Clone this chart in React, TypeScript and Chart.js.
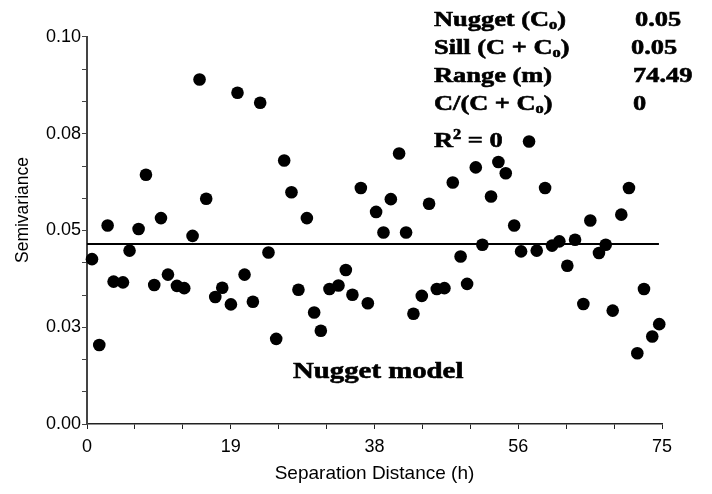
import React, { useEffect, useRef } from "react";
import { Chart, registerables } from "chart.js";

Chart.register(...registerables);

// Separation distance (h) of each lag class
const lagDistance = [
  0.65, 1.6, 2.69, 3.47, 4.69, 5.55, 6.73, 7.69, 8.77, 9.65,
  10.56, 11.73, 12.68, 13.77, 14.68, 15.55, 16.73, 17.64, 18.77, 19.63,
  20.55, 21.64, 22.59, 23.67, 24.68, 25.72, 26.67, 27.58, 28.68, 29.63,
  30.5, 31.63, 32.8, 33.76, 34.62, 35.72, 36.63, 37.71, 38.67, 39.63,
  40.71, 41.62, 42.58, 43.67, 44.62, 45.63, 46.62, 47.71, 48.73, 49.58,
  50.71, 51.57, 52.7, 53.66, 54.62, 55.72, 56.62, 57.66, 58.66, 59.75,
  60.66, 61.61, 62.65, 63.66, 64.74, 65.65, 66.78, 67.66, 68.57, 69.69,
  70.69, 71.78, 72.65, 73.73, 74.64,
];

// Experimental semivariance per lag class
const semivariance = [
  0.0426, 0.0204, 0.0513, 0.0368, 0.0366, 0.0448, 0.0504, 0.0644, 0.0359, 0.0532,
  0.0386, 0.0357, 0.0351, 0.0486, 0.089, 0.0582, 0.0328, 0.0352, 0.0309, 0.0856,
  0.0386, 0.0316, 0.083, 0.0443, 0.022, 0.0681, 0.0599, 0.0347, 0.0532, 0.0288,
  0.0241, 0.0349, 0.0358, 0.0398, 0.0334, 0.061, 0.0312, 0.0548, 0.0495, 0.0581,
  0.0699, 0.0495, 0.0285, 0.0331, 0.0569, 0.0349, 0.0351, 0.0624, 0.0433, 0.0362,
  0.0663, 0.0463, 0.0588, 0.0677, 0.0648, 0.0513, 0.0446, 0.073, 0.0448, 0.061,
  0.0461, 0.0472, 0.0409, 0.0476, 0.031, 0.0526, 0.0442, 0.0463, 0.0293, 0.0541,
  0.061, 0.0183, 0.0349, 0.0226, 0.0258,
];

// Fitted nugget model
const nuggetX = [0, 74.6];
const nuggetY = [0.0465, 0.0465];

// Axis ranges and tick labels
const xMin = 0;
const xMax = 75;
const yMin = 0;
const yMax = 0.1;
const minorPerMajor = 3;
const majorCount = 4;
const xTickLabels = ["0", "19", "38", "56", "75"];
const yTickLabels = ["0.00", "0.03", "0.05", "0.08", "0.10"];

// Model statistics
const statLabels = ["Nugget (C|o|)", "Sill (C + C|o|)", "Range (m)", "C/(C + C|o|)", "R^2^ = 0"];
const statValues = ["0.05", "0.05", "74.49", "0", ""];
const modelName = "Nugget model";

const SERIF = '"Liberation Serif", "Times New Roman", serif';
const SANS = '"Liberation Sans", Arial, sans-serif';

function drawRich(ctx: CanvasRenderingContext2D, text: string, x: number, y: number, size: number, sx: number) {
  // "|o|" marks subscript, "^2^" marks superscript
  const segs: { t: string; k: string }[] = [];
  const re = /\|([^|]+)\||\^([^^]+)\^/g;
  let last = 0;
  let m: RegExpExecArray | null;
  while ((m = re.exec(text))) {
    if (m.index > last) segs.push({ t: text.slice(last, m.index), k: "n" });
    if (m[1] !== undefined) segs.push({ t: m[1], k: "sub" });
    else segs.push({ t: m[2], k: "sup" });
    last = re.lastIndex;
  }
  if (last < text.length) segs.push({ t: text.slice(last), k: "n" });
  ctx.save();
  ctx.translate(x, y);
  ctx.scale(sx, 1);
  ctx.textBaseline = "alphabetic";
  ctx.textAlign = "left";
  ctx.fillStyle = "#000";
  ctx.strokeStyle = "#000";
  ctx.lineWidth = 0.6;
  let cx = 0;
  for (const s of segs) {
    const fs = s.k === "n" ? size : size * 0.62;
    const dy = s.k === "sub" ? size * 0.12 : s.k === "sup" ? -size * 0.38 : 0;
    ctx.font = `bold ${fs}px ${SERIF}`;
    ctx.fillText(s.t, cx, dy);
    ctx.strokeText(s.t, cx, dy);
    cx += ctx.measureText(s.t).width;
  }
  ctx.restore();
}

const annotationPlugin = {
  id: "annotations",
  beforeDraw(chart: any) {
    const ctx = chart.ctx;
    ctx.save();
    ctx.fillStyle = "#fff";
    ctx.fillRect(0, 0, chart.width, chart.height);
    ctx.restore();
  },
  afterDraw(chart: any) {
    const ctx: CanvasRenderingContext2D = chart.ctx;
    const baseY = [26, 54, 82, 110, 147];
    const valX = [635, 631, 633, 633, 633];
    statLabels.forEach((lbl, i) => {
      drawRich(ctx, lbl, 434, baseY[i], 22, 1.2);
      if (statValues[i]) drawRich(ctx, statValues[i], valX[i], baseY[i], 22, 1.2);
    });
    drawRich(ctx, modelName, 293, 378, 24, 1.2);

    // y axis title
    ctx.save();
    ctx.translate(23, 210);
    ctx.rotate(-Math.PI / 2);
    ctx.font = `17.5px ${SANS}`;
    ctx.fillStyle = "#000";
    ctx.textAlign = "center";
    ctx.textBaseline = "middle";
    ctx.fillText("Semivariance", 0, 0);
    ctx.restore();
  },
};

export default function App() {
  const ref = useRef<HTMLCanvasElement | null>(null);
  useEffect(() => {
    if (!ref.current) return;
    const nTicks = majorCount * minorPerMajor + 1;
    const chart = new Chart(ref.current, {
      type: "scatter",
      data: {
        datasets: [
          {
            label: "Semivariance",
            data: lagDistance.map((x, i) => ({ x, y: semivariance[i] })),
            backgroundColor: "#000",
            borderWidth: 0,
            pointRadius: 6.3,
            clip: false,
          } as any,
          {
            type: "line",
            label: "Nugget model",
            data: nuggetX.map((x, i) => ({ x, y: nuggetY[i] })),
            borderColor: "#000",
            borderWidth: 2,
            pointRadius: 0,
            fill: false,
          } as any,
        ],
      },
      options: {
        responsive: false,
        animation: false,
        devicePixelRatio: 1,
        layout: { padding: { left: 0, right: 50, top: 37, bottom: 0 } },
        plugins: { legend: { display: false }, tooltip: { enabled: false } },
        scales: {
          x: {
            type: "linear",
            min: xMin,
            max: xMax,
            afterBuildTicks: (axis: any) => {
              axis.ticks = Array.from({ length: nTicks }, (_, i) => ({ value: xMin + (i * (xMax - xMin)) / (nTicks - 1) }));
            },
            afterFit: (s: any) => {
              s.height = 70;
            },
            ticks: {
              autoSkip: false,
              maxRotation: 0,
              padding: 7,
              color: "#000",
              font: { family: SANS, size: 18 },
              callback: (_v: any, i: number) => (i % minorPerMajor === 0 ? xTickLabels[i / minorPerMajor] : ""),
            },
            grid: { drawOnChartArea: false, drawTicks: true, tickLength: 5, color: "#222", lineWidth: 1 },
            border: { display: true, color: "#222", width: 1.5 },
            title: {
              display: true,
              text: "Separation Distance (h)",
              color: "#000",
              font: { family: SANS, size: 19 },
              padding: { top: 0, bottom: 9 },
            },
          },
          y: {
            type: "linear",
            min: yMin,
            max: yMax,
            afterBuildTicks: (axis: any) => {
              axis.ticks = Array.from({ length: nTicks }, (_, i) => ({ value: yMin + (i * (yMax - yMin)) / (nTicks - 1) }));
            },
            afterFit: (s: any) => {
              s.width = 87;
            },
            ticks: {
              autoSkip: false,
              padding: 1,
              color: "#000",
              font: { family: SANS, size: 18 },
              callback: (_v: any, i: number) => (i % minorPerMajor === 0 ? yTickLabels[i / minorPerMajor] : ""),
            },
            grid: { drawOnChartArea: false, drawTicks: true, tickLength: 5, color: "#444", lineWidth: 1 },
            border: { display: true, color: "#444", width: 2 },
          },
        },
      },
      plugins: [annotationPlugin],
    });
    return () => chart.destroy();
  }, []);
  return (
    <div style={{ position: "fixed", left: 0, top: 0, width: 712, height: 494, background: "#fff" }}>
      <canvas ref={ref} width={712} height={494} style={{ display: "block", width: 712, height: 494 }} />
    </div>
  );
}
